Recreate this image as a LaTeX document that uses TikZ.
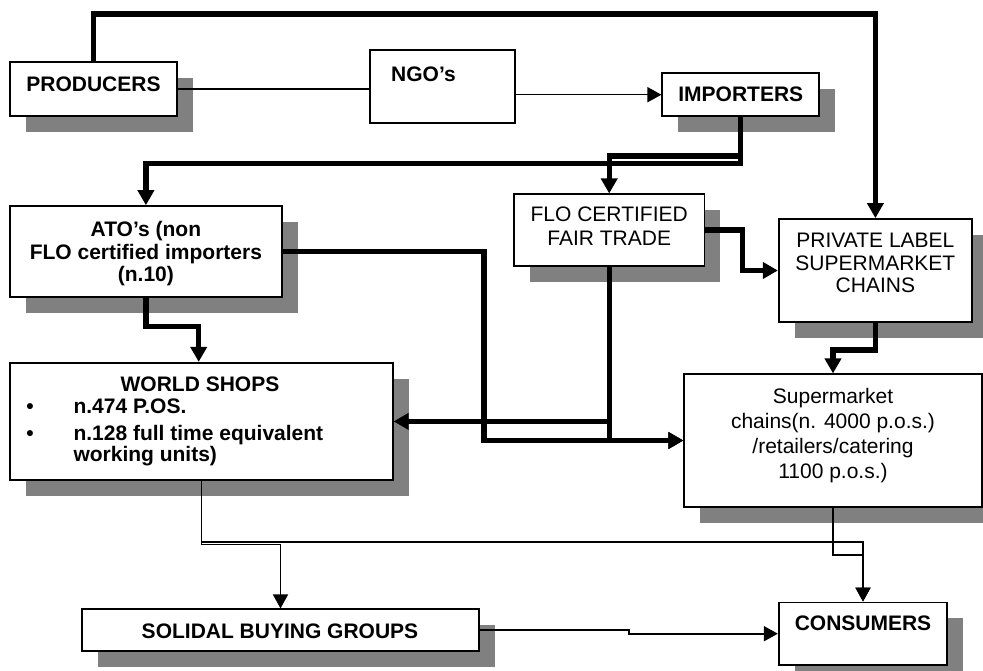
\documentclass[tikz,border=0pt]{standalone}
\usepackage{fontspec}
\setmainfont{Liberation Sans}
\usetikzlibrary{arrows.meta,shadows}
\definecolor{shadowgray}{RGB}{128,128,128}
\begin{document}
\begin{tikzpicture}[x=1pt,y=-1pt,
  box/.style={draw=black, line width=1.7pt, fill=white, inner sep=0pt,
    drop shadow={shadow xshift=16pt, shadow yshift=-16pt, fill=shadowgray, draw=none, opacity=1}},
  flatbox/.style={draw=black, line width=1.7pt, fill=white, inner sep=0pt},
  txt/.style={inner sep=0pt, anchor=base, font=\fontsize{21}{24}\selectfont},
  btxt/.style={inner sep=0pt, anchor=base, font=\fontsize{21}{24}\selectfont\bfseries},
  heavy/.style={line width=5.3pt, -{Triangle[length=15pt,width=16pt]}},
  heavyplain/.style={line width=5.3pt},
  light/.style={line width=1.6pt, -{Triangle[length=14pt,width=15pt]}},
  lightplain/.style={line width=1.6pt},
]
\useasboundingbox (0,0) rectangle (983,671);

% boxes
\node[box, minimum width=167pt, minimum height=54pt] (prod) at (93.5,89) {};
\node[flatbox, minimum width=145pt, minimum height=72.7pt] (ngo) at (442.5,86.4) {};
\node[box, minimum width=157pt, minimum height=42.7pt] (imp) at (740.8,94.7) {};
\node[box, minimum width=271.7pt, minimum height=90.7pt] (ato) at (145.9,251.4) {};
\node[box, minimum width=190.3pt, minimum height=71.4pt] (flo) at (609.2,230) {};
\node[box, minimum width=193.3pt, minimum height=103pt] (priv) at (875.4,270.5) {};
\node[box, minimum width=382.7pt, minimum height=117.3pt] (ws) at (201.4,421.4) {};
\node[box, minimum width=297.4pt, minimum height=132.4pt] (sup) at (833,440.5) {};
\node[box, minimum width=397.6pt, minimum height=41.4pt] (sol) at (280.5,630) {};
\node[box, minimum width=168.6pt, minimum height=62.7pt] (cons) at (863,633.7) {};

% texts
\node[btxt] (tprod) at (93.5,92) {PRODUCERS};
\node[btxt, anchor=base west] (tngo) at (391,81.7) {NGO’s};
\node[btxt] (timp) at (740.8,101.7) {IMPORTERS};
\node[btxt] (tato1) at (145.9,237) {ATO’s (non};
\node[btxt] (tato2) at (145.9,259.5) {FLO certified importers};
\node[btxt] (tato3) at (145.9,282) {(n.10)};
\node[txt] (tflo1) at (609.2,221.7) {FLO CERTIFIED};
\node[txt] (tflo2) at (609.2,245.7) {FAIR TRADE};
\node[txt] (tpriv1) at (875.4,247.3) {PRIVATE LABEL};
\node[txt] (tpriv2) at (875.4,270) {SUPERMARKET};
\node[txt] (tpriv3) at (875.4,292.3) {CHAINS};
\node[btxt] (tws) at (200,391.7) {WORLD SHOPS};
\node[btxt] (bul1) at (30,413.3) {•};
\node[btxt] (bul2) at (30,440.7) {•};
\node[btxt, anchor=base west] (tws1) at (73.3,413.3) {n.474 P.OS.};
\node[btxt, anchor=base west] (tws2) at (73.3,440.7) {n.128 full time equivalent};
\node[btxt, anchor=base west] (tws3) at (73.3,461.7) {working units)};
\node[txt] (tsup1) at (833,403) {Supermarket};
\node[txt] (tsup2) at (833,428) {chains(n. 4000 p.o.s.)};
\node[txt] (tsup3) at (833,453) {/retailers/catering};
\node[txt] (tsup4) at (833,478) {1100 p.o.s.)};
\node[btxt] (tsol) at (280,638.3) {SOLIDAL BUYING GROUPS};
\node[btxt] (tcons) at (863,630) {CONSUMERS};

% heavy connectors
\draw[heavy] (prod.north) -- ++(0,-47) -| (priv.north);
\draw[heavy] (imp.south) -- ++(0,46.5) -| (ato.north);
\draw[heavy] (imp.south) -- ++(0,39) -| (flo.north);
\draw[heavy] (flo.east) -- ++(37,0) |- (priv.west);
\draw[heavy] (ato.south) -- ++(0,29) -| ([xshift=-2.7pt]ws.north);
\draw[heavy] (ato.east) -- ++(201.3,0) |- (sup.west);
\draw[heavy] (flo.south) |- (ws.east);
\draw[heavy] (flo.south) |- (sup.west);
\draw[heavy] (priv.south) -- ++(0,27) -| (sup.north);

% light connectors
\draw[lightplain] (prod.east) -- (prod.east -| ngo.west);
\draw[light] (imp.west -| ngo.east) -- (imp.west);
\draw[light] (ws.south) -- ++(0,63.6) -| (sol.north);
\draw[light] (ws.south) -- ++(0,61) -| (cons.north);
\draw[light] (sup.south) -- ++(0,47.6) -| (cons.north);
\draw[light] (sol.east) -- ++(149,0) |- (cons.west);
\end{tikzpicture}
\end{document}
